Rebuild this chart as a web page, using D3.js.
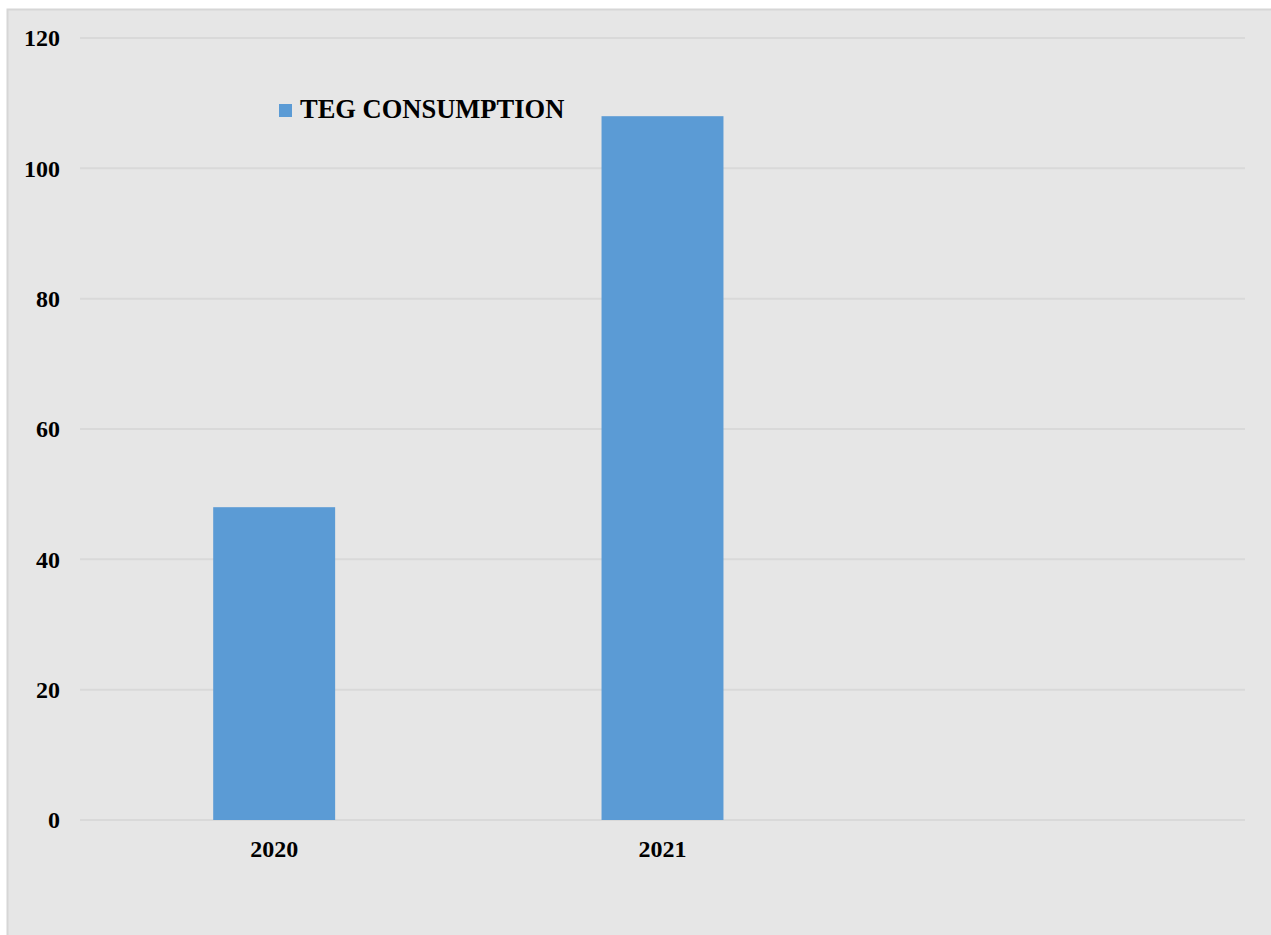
<!DOCTYPE html>
<html>
<head>
<meta charset="utf-8">
<script src="https://cdn.jsdelivr.net/npm/d3@7"></script>
<style>
  body { margin: 0; background: #fff; }
  svg { display: block; }
</style>
</head>
<body>
<div id="chart"></div>
<script>
// chart data
const categories = ['2020', '2021', ''];
const consumption = [48, 108];
const yTicks = [0, 20, 40, 60, 80, 100, 120];
const seriesName = 'TEG CONSUMPTION';

const width = 1271;
const height = 935;
const margin = { top: 38, right: 26, bottom: 115, left: 80 };

const svg = d3.select('#chart')
  .append('svg')
  .attr('width', width)
  .attr('height', height);

// chart area background with border
svg.append('rect')
  .attr('x', 7.5)
  .attr('y', 9.5)
  .attr('width', width)
  .attr('height', height)
  .style('fill', '#e6e6e6')
  .style('stroke', '#d6d6d6')
  .style('stroke-width', 2);

const x = d3.scaleBand()
  .domain(categories)
  .range([margin.left, width - margin.right])
  .paddingInner(0.686)
  .paddingOuter(0.343);

const y = d3.scaleLinear()
  .domain([0, 120])
  .range([height - margin.bottom, margin.top]);

// gridlines
svg.append('g')
  .selectAll('line')
  .data(yTicks)
  .enter().append('line')
  .attr('x1', margin.left)
  .attr('x2', width - margin.right)
  .attr('y1', d => y(d))
  .attr('y2', d => y(d))
  .style('stroke', '#d9d9d9')
  .style('stroke-width', 2);

// y tick labels
svg.append('g')
  .selectAll('text')
  .data(yTicks)
  .enter().append('text')
  .attr('x', 60)
  .attr('y', d => y(d))
  .attr('dy', '0.35em')
  .attr('text-anchor', 'end')
  .style('font', 'bold 24px "Liberation Serif", "Times New Roman", serif')
  .style('fill', '#000')
  .text(d => d);

// bars
svg.append('g')
  .selectAll('rect')
  .data(consumption)
  .enter().append('rect')
  .attr('x', (d, i) => x(categories[i]))
  .attr('y', d => y(d))
  .attr('width', x.bandwidth())
  .attr('height', d => y(0) - y(d))
  .style('fill', '#5b9bd5');

// x labels
svg.append('g')
  .selectAll('text')
  .data(categories)
  .enter().append('text')
  .attr('x', d => x(d) + x.bandwidth() / 2)
  .attr('y', 857)
  .attr('text-anchor', 'middle')
  .style('font', 'bold 24px "Liberation Serif", "Times New Roman", serif')
  .style('fill', '#000')
  .text(d => d);

// legend
const legend = svg.append('g').attr('transform', 'translate(279,104)');
legend.append('rect')
  .attr('width', 13)
  .attr('height', 13)
  .style('fill', '#5b9bd5');
legend.append('text')
  .attr('x', 21)
  .attr('y', 14)
  .style('font', 'bold 26.5px "Liberation Serif", "Times New Roman", serif')
  .style('fill', '#000')
  .text(seriesName);
</script>
</body>
</html>
